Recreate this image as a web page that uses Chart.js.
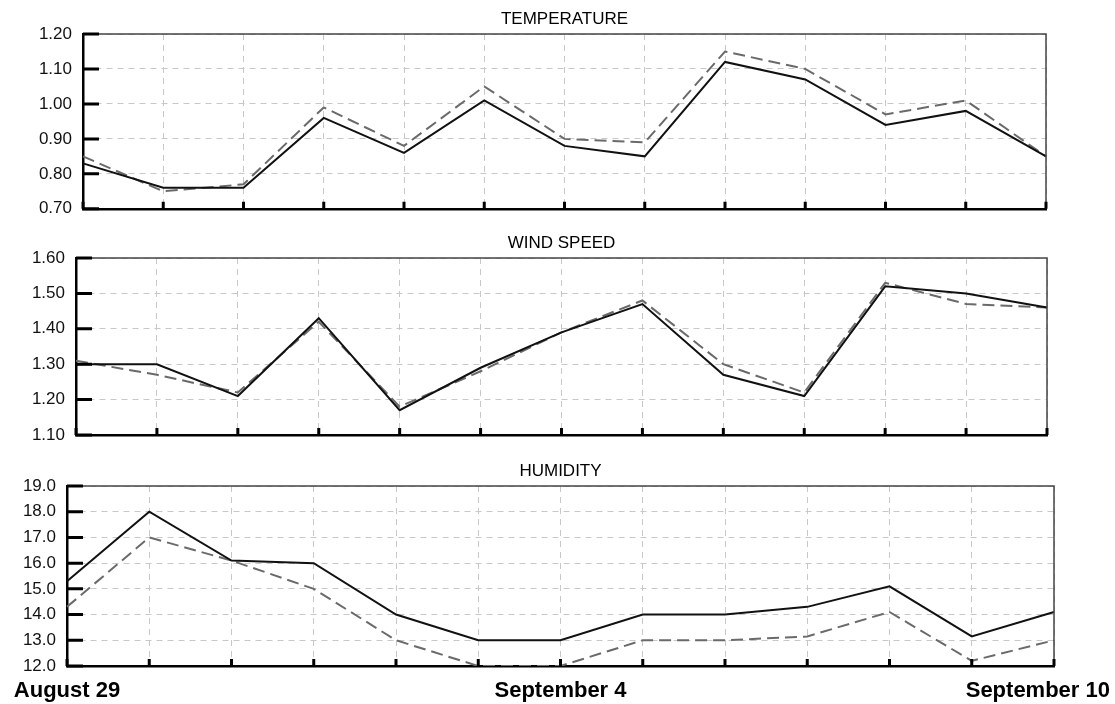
<!DOCTYPE html>
<html lang="en">
<head>
    <meta charset="UTF-8">
    <title>Temperature, wind speed, humidity</title>
    <script src="https://cdn.jsdelivr.net/npm/chart.js"></script>
    <style>
        body {
            margin: 0;
            background: #fff;
        }
        .wrap {
            position: relative;
            width: 1115px;
            height: 704px;
        }
        .panel {
            position: absolute;
            left: 0;
            width: 1115px;
        }
        #p1 { top: 0; height: 230px; }
        #p2 { top: 230px; height: 230px; }
        #p3 { top: 460px; height: 244px; }
    </style>
</head>
<body>
    <div class="wrap">
        <div class="panel" id="p1"><canvas id="temp"></canvas></div>
        <div class="panel" id="p2"><canvas id="wind"></canvas></div>
        <div class="panel" id="p3"><canvas id="hum"></canvas></div>
    </div>

    <script>
        const days = ["August 29", "August 30", "August 31", "September 1", "September 2", "September 3",
            "September 4", "September 5", "September 6", "September 7", "September 8", "September 9", "September 10"];
        const shownDays = ["August 29", "September 4", "September 10"];

        const tempSolid = [0.83, 0.76, 0.76, 0.96, 0.86, 1.01, 0.88, 0.85, 1.12, 1.07, 0.94, 0.98, 0.85];
        const tempDashed = [0.85, 0.75, 0.77, 0.99, 0.88, 1.05, 0.90, 0.89, 1.15, 1.10, 0.97, 1.01, 0.85];
        const tempTicks = [0.70, 0.80, 0.90, 1.00, 1.10, 1.20];

        const windSolid = [1.30, 1.30, 1.21, 1.43, 1.17, 1.29, 1.39, 1.47, 1.27, 1.21, 1.52, 1.50, 1.46];
        const windDashed = [1.31, 1.27, 1.22, 1.42, 1.18, 1.28, 1.39, 1.48, 1.30, 1.22, 1.53, 1.47, 1.46];
        const windTicks = [1.10, 1.20, 1.30, 1.40, 1.50, 1.60];

        const humSolid = [15.3, 18.0, 16.1, 16.0, 14.0, 13.0, 13.0, 14.0, 14.0, 14.3, 15.1, 13.15, 14.1];
        const humDashed = [14.3, 17.0, 16.1, 15.0, 13.0, 12.0, 12.0, 13.0, 13.0, 13.15, 14.1, 12.2, 13.0];
        const humTicks = [12, 13, 14, 15, 16, 17, 18, 19];

        Chart.defaults.font.family = '"Liberation Sans", Arial, sans-serif';

        // frame edges, heavy tick marks, panel title and date labels
        const framePlugin = {
            id: 'frame',
            afterDatasetsDraw(chart, args, opts) {
                const { ctx, chartArea: a, scales: { x, y } } = chart;
                ctx.save();
                ctx.strokeStyle = '#444';
                ctx.lineWidth = 1.5;
                ctx.beginPath();
                ctx.moveTo(a.left, a.top);
                ctx.lineTo(a.right, a.top);
                ctx.lineTo(a.right, a.bottom);
                ctx.stroke();

                ctx.strokeStyle = '#000';
                ctx.lineWidth = 3;
                ctx.beginPath();
                y.ticks.forEach(t => {
                    const py = y.getPixelForValue(t.value);
                    ctx.moveTo(a.left, py);
                    ctx.lineTo(a.left + 16, py);
                });
                days.forEach((d, i) => {
                    const px = x.getPixelForValue(i);
                    ctx.moveTo(px, a.bottom);
                    ctx.lineTo(px, a.bottom - 7);
                });
                ctx.stroke();

                ctx.fillStyle = '#000';
                ctx.textBaseline = 'middle';
                ctx.textAlign = 'center';
                ctx.font = '17px "Liberation Sans", Arial, sans-serif';
                ctx.fillText(opts.title, (a.left + a.right) / 2, a.top - 15);

                if (opts.dates) {
                    ctx.textAlign = 'left';
                    ctx.font = 'bold 22px "Liberation Sans", Arial, sans-serif';
                    shownDays.forEach(d => {
                        const px = x.getPixelForValue(days.indexOf(d));
                        const w = ctx.measureText(d).width;
                        const left = Math.min(Math.max(px - w / 2, 8), chart.width - 5 - w);
                        ctx.fillText(d, left, a.bottom + 25);
                    });
                }
                ctx.restore();
            }
        };

        function makePanel(id, title, solid, dashed, ticks, digits, box, dates) {
            const canvas = document.getElementById(id);
            const h = canvas.parentNode.clientHeight;
            const border = { color: '#000', width: 2.5, dash: [6, 5] };
            return new Chart(canvas, {
                type: 'line',
                data: {
                    labels: days,
                    datasets: [
                        { data: solid, borderColor: '#111', borderWidth: 2, pointRadius: 0, tension: 0 },
                        { data: dashed, borderColor: '#6a6a6a', borderWidth: 2, borderDash: [12, 6], pointRadius: 0, tension: 0 }
                    ]
                },
                options: {
                    responsive: true,
                    maintainAspectRatio: false,
                    animation: false,
                    layout: {
                        padding: { left: 0, top: box[1], right: 1115 - box[2], bottom: h - box[3] }
                    },
                    scales: {
                        x: {
                            grid: { color: '#c8c8c8', lineWidth: 1, drawTicks: false },
                            border: border,
                            ticks: { display: false },
                            afterFit: s => { s.height = 0; }
                        },
                        y: {
                            min: ticks[0],
                            max: ticks[ticks.length - 1],
                            grid: { color: '#c8c8c8', lineWidth: 1, drawTicks: false },
                            border: border,
                            ticks: {
                                color: '#111',
                                padding: 11,
                                font: { size: 17 },
                                callback: v => Number(v).toFixed(digits)
                            },
                            afterBuildTicks: s => { s.ticks = ticks.map(v => ({ value: v })); },
                            afterFit: s => { s.width = box[0]; }
                        }
                    },
                    plugins: {
                        legend: { display: false },
                        tooltip: { enabled: false },
                        frame: { title: title, dates: dates }
                    }
                },
                plugins: [framePlugin]
            });
        }

        makePanel('temp', 'TEMPERATURE', tempSolid, tempDashed, tempTicks, 2, [83, 34, 1046, 212], false);
        makePanel('wind', 'WIND SPEED', windSolid, windDashed, windTicks, 2, [76, 28, 1047, 205], false);
        makePanel('hum', 'HUMIDITY', humSolid, humDashed, humTicks, 1, [67, 26, 1054, 206], true);
    </script>
</body>
</html>
